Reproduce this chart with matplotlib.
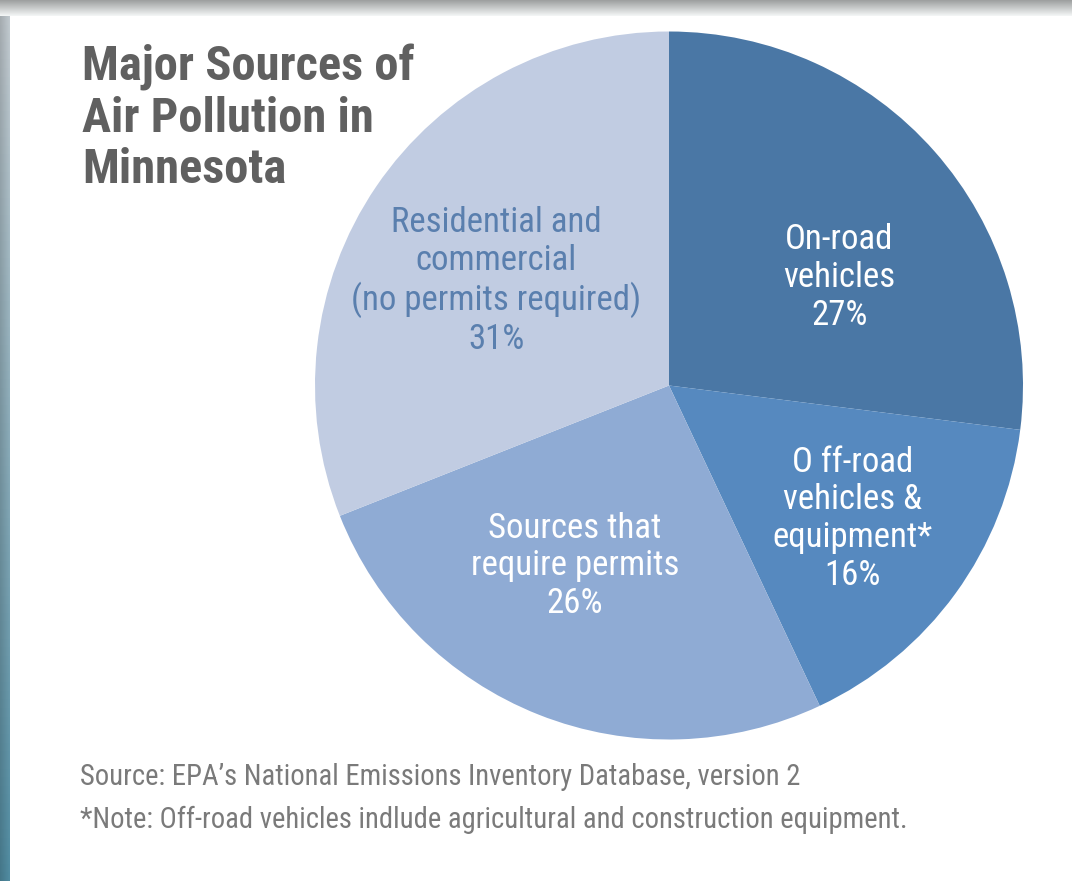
import numpy as np
import matplotlib.pyplot as plt

# data
sources = ['On-road\nvehicles', 'O ff-road\nvehicles &\nequipment*',
           'Sources that\nrequire permits', 'Residential and\ncommercial\n(no permits required)']
shares = [27, 16, 26, 31]
colors = ['#4a77a5', '#5689bf', '#8fabd4', '#c1cce2']
label_colors = ['white', 'white', 'white', '#5a7fae']
label_radius = [0.57, 0.64, 0.575, 0.57]
label_shift = [-9, 0, -6, 3]   # degrees, tweak around the wedge middle

title = 'Major Sources of\nAir Pollution in\nMinnesota'
notes = ["Source: EPA\u2019s National Emissions Inventory Database, version 2",
         "*Note: Off-road vehicles indlude agricultural and construction equipment."]

narrow = ['Roboto Condensed', 'PT Sans Narrow', 'DejaVu Sans']

W, H = 1072, 881
fig = plt.figure(figsize=(W / 100, H / 100), dpi=100)
fig.patch.set_facecolor('white')

# frame: grey band on top, grey-to-teal band on the left
bg = fig.add_axes([0, 0, 1, 1])
bg.set_xlim(0, W)
bg.set_ylim(H, 0)
bg.axis('off')
top = np.linspace(0.62, 0.95, 16)[:, None] * np.ones((1, 10))
bg.imshow(np.dstack([top, top + 0.01, top + 0.01]).clip(0, 1),
          extent=[0, W, 16, 0], aspect='auto', zorder=1)
t = np.linspace(0, 1, 100)[:, None]
c_top = np.array([0.72, 0.75, 0.77])
c_bot = np.array([0.30, 0.52, 0.60])
strip = (c_top + (c_bot - c_top) * t)[:, None, :] * np.linspace(0.9, 1.05, 10)[None, :, None]
bg.imshow(strip.clip(0, 1), extent=[0, 10, H, 16], aspect='auto', zorder=1)

# pie
cx, cy, r = 669, 385.5, 354
ax = fig.add_axes([(cx - r) / W, (H - cy - r) / H, 2 * r / W, 2 * r / H])
wedges, _ = ax.pie(shares, colors=colors, startangle=90, counterclock=False,
                   wedgeprops=dict(linewidth=0))
ax.set_xlim(-1, 1)
ax.set_ylim(-1, 1)
ax.set_aspect('equal')

for w, lab, pct, col, rr, sh in zip(wedges, sources, shares, label_colors, label_radius, label_shift):
    mid = np.deg2rad((w.theta1 + w.theta2) / 2 + sh)
    ax.text(rr * np.cos(mid), rr * np.sin(mid), f'{lab}\n{pct}%', color=col,
            ha='center', va='center', linespacing=1.18, family=narrow, fontsize=25)

fig.text(82 / W, 1 - 44 / H, title, ha='left', va='top', color='#606060',
         family=narrow, fontweight='bold', fontsize=35, linespacing=1.14)
fig.text(80 / W, 1 - 777 / H, notes[0], ha='left', va='center', color='#7a7a7a',
         family=narrow, fontsize=20.6)
fig.text(80 / W, 1 - 820 / H, notes[1], ha='left', va='center', color='#7a7a7a',
         family=narrow, fontsize=20.6)

fig.savefig('out.png', dpi=100)
